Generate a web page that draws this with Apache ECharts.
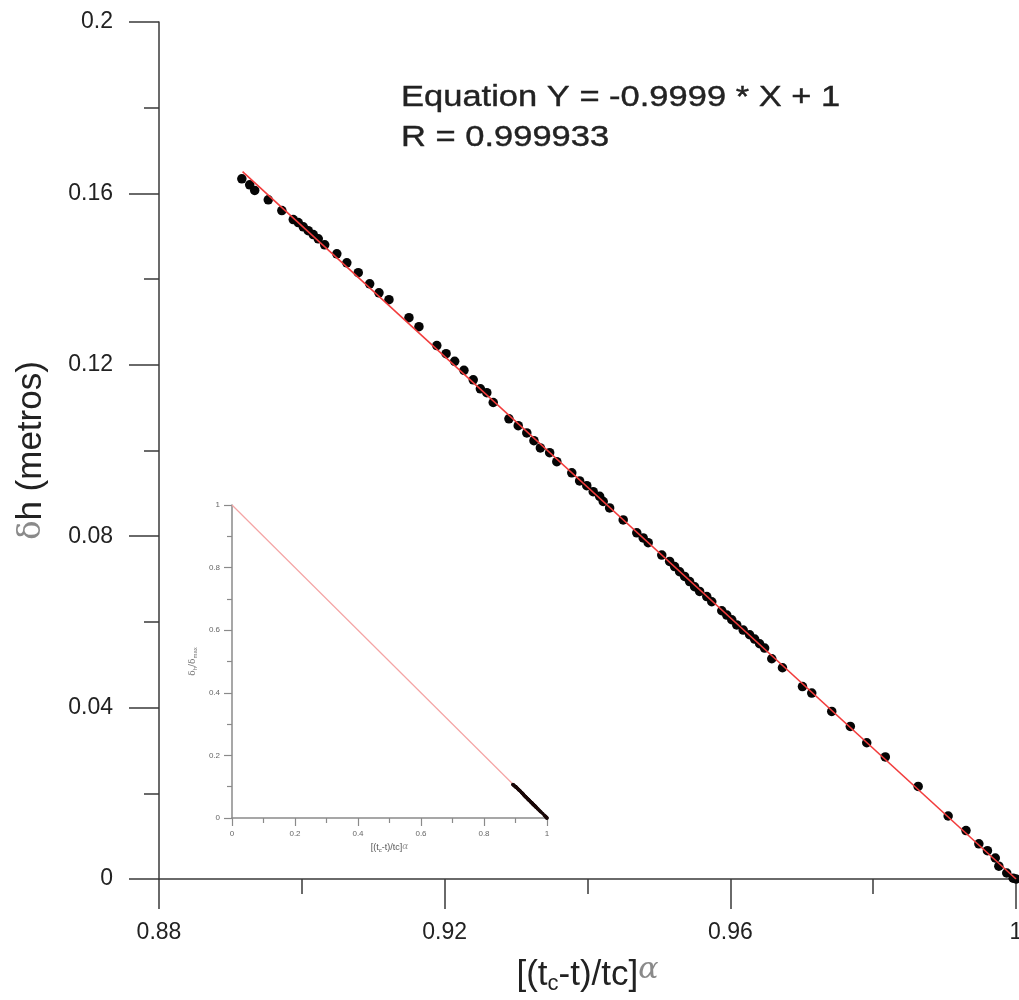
<!DOCTYPE html>
<html>
<head>
<meta charset="utf-8">
<script src="https://cdn.jsdelivr.net/npm/echarts@6/dist/echarts.min.js"></script>
<style>
  html, body { margin: 0; padding: 0; background: #fff; }
  #chart { width: 1019px; height: 1000px; }
</style>
</head>
<body>
<div id="chart"></div>
<script>
// ---- data ----
const xVals = [0.8916,0.8927,0.8934,0.8953,0.8972,0.8988,0.8995,0.9002,0.9009,0.9016,0.9023,0.9032,0.9049,0.9063,0.9079,0.9095,0.9108,0.9122,0.9150,0.9164,0.9189,0.9202,0.9214,0.9227,0.9240,0.9250,0.9259,0.9268,0.9290,0.9303,0.9315,0.9325,0.9334,0.9347,0.9357,0.9378,0.9389,0.9399,0.9408,0.9417,0.9422,0.9431,0.9450,0.9469,0.9478,0.9485,0.9504,0.9515,0.9522,0.9529,0.9536,0.9543,0.9550,0.9557,0.9567,0.9574,0.9588,0.9595,0.9602,0.9609,0.9618,0.9627,0.9634,0.9641,0.9648,0.9658,0.9673,0.9701,0.9714,0.9742,0.9768,0.9791,0.9817,0.9863,0.9905,0.9930,0.9948,0.9960,0.9971,0.9976,0.9987,0.9996,1.0000];
const yVals = [0.1634,0.1620,0.1607,0.1585,0.1560,0.1539,0.1532,0.1522,0.1513,0.1504,0.1494,0.1480,0.1459,0.1438,0.1415,0.1389,0.1368,0.1352,0.1310,0.1289,0.1245,0.1226,0.1208,0.1187,0.1165,0.1144,0.1135,0.1112,0.1074,0.1058,0.1041,0.1023,0.1006,0.0995,0.0974,0.0948,0.0929,0.0918,0.0904,0.0893,0.0881,0.0866,0.0838,0.0808,0.0796,0.0785,0.0756,0.0741,0.0729,0.0717,0.0706,0.0694,0.0682,0.0671,0.0659,0.0647,0.0626,0.0616,0.0605,0.0593,0.0581,0.0570,0.0560,0.0549,0.0539,0.0514,0.0493,0.0449,0.0434,0.0391,0.0356,0.0318,0.0285,0.0216,0.0147,0.0113,0.0082,0.0066,0.0049,0.0030,0.0014,0.0002,0.0000];
const fitX = [0.8917, 1.0];
const fitY = [0.1651, 0.0];
const deltaMax = 1.524;            // normalisation used in the inset (δh/δmax)
const insetFitX = [0, 1];
const insetFitY = [1, 0];
const eqLines = ['Equation Y = -0.9999 * X + 1', 'R = 0.999933'];

// ---- build ----
const mainPts = xVals.map((x, i) => [x, yVals[i]]);
const insetPts = xVals.map((x, i) => [x, yVals[i] / deltaMax]);
const mainFit = fitX.map((x, i) => [x, fitY[i]]);
const insetFit = insetFitX.map((x, i) => [x, insetFitY[i]]);
const fmt = v => String(+v.toFixed(2));
const FONT = '"Liberation Sans", Arial, sans-serif';
const axisCol = '#3a3a3a';

const chart = echarts.init(document.getElementById('chart'), null, { renderer: 'canvas' });
chart.setOption({
  animation: false,
  backgroundColor: '#ffffff',
  grid: [
    { left: 159, top: 22, width: 857, height: 857, containLabel: false, outerBoundsMode: 'none' },
    { left: 232, top: 505, width: 315, height: 313, containLabel: false, outerBoundsMode: 'none' }
  ],
  xAxis: [
    {
      gridIndex: 0, type: 'value', min: 0.88, max: 1, interval: 0.04,
      name: '{b|[(t}{s|c}{b|-t)/tc]}{a|α}', nameLocation: 'middle', nameGap: 76,
      nameTextStyle: { rich: {
        b: { fontFamily: FONT, fontSize: 35, color: '#222', lineHeight: 40, verticalAlign: 'middle' },
        s: { fontFamily: FONT, fontSize: 22, color: '#222', lineHeight: 22, verticalAlign: 'bottom' },
        a: { fontFamily: '"DejaVu Serif", serif', fontStyle: 'italic', fontSize: 30, color: '#8a8a8a', lineHeight: 32, verticalAlign: 'top' }
      } },
      axisLine: { show: true, onZero: false, lineStyle: { color: axisCol, width: 1.5 } },
      axisTick: { show: true, inside: false, length: 30, lineStyle: { color: axisCol, width: 1.5 } },
      minorTick: { show: true, splitNumber: 2, length: 15, lineStyle: { color: axisCol, width: 1.5 } },
      splitLine: { show: false },
      axisLabel: { fontFamily: FONT, fontSize: 23, color: '#222', margin: 42, formatter: fmt, showMinLabel: true, showMaxLabel: true }
    },
    {
      gridIndex: 1, type: 'value', min: 0, max: 1, interval: 0.2,
      name: '{b|[(t}{s|c}{b|-t)/tc]}{a|α}', nameLocation: 'middle', nameGap: 24,
      nameTextStyle: { rich: {
        b: { fontFamily: FONT, fontSize: 9, color: '#555', lineHeight: 11, verticalAlign: 'middle' },
        s: { fontFamily: FONT, fontSize: 6, color: '#555', lineHeight: 6, verticalAlign: 'bottom' },
        a: { fontFamily: '"DejaVu Serif", serif', fontStyle: 'italic', fontSize: 9, color: '#999', lineHeight: 9, verticalAlign: 'top' }
      } },
      axisLine: { show: true, onZero: false, lineStyle: { color: '#8a8a8a', width: 1.5 } },
      axisTick: { show: true, inside: false, length: 8, lineStyle: { color: '#8a8a8a', width: 1.2 } },
      minorTick: { show: true, splitNumber: 2, length: 5, lineStyle: { color: '#8a8a8a', width: 1.2 } },
      splitLine: { show: false },
      axisLabel: { fontFamily: FONT, fontSize: 8, color: '#666', margin: 12, formatter: fmt, showMinLabel: true, showMaxLabel: true }
    }
  ],
  yAxis: [
    {
      gridIndex: 0, type: 'value', min: 0, max: 0.2, interval: 0.04,
      name: '{d|δ}{b|h (metros)}', nameLocation: 'middle', nameGap: 110, nameRotate: 90,
      nameTextStyle: { rich: {
        d: { fontFamily: '"DejaVu Serif", serif', fontSize: 32, color: '#8a8a8a' },
        b: { fontFamily: FONT, fontSize: 35, color: '#222' }
      } },
      axisLine: { show: true, onZero: false, lineStyle: { color: axisCol, width: 1.5 } },
      axisTick: { show: true, inside: false, length: 30, lineStyle: { color: axisCol, width: 1.5 } },
      minorTick: { show: true, splitNumber: 2, length: 15, lineStyle: { color: axisCol, width: 1.5 } },
      splitLine: { show: false },
      axisLabel: { fontFamily: FONT, fontSize: 23, color: '#222', margin: 46, formatter: fmt, showMinLabel: true, showMaxLabel: true }
    },
    {
      gridIndex: 1, type: 'value', min: 0, max: 1, interval: 0.2,
      name: '{d|δ}{s|h}{b|/δ}{s|max}', nameLocation: 'middle', nameGap: 34, nameRotate: 90,
      nameTextStyle: { rich: {
        d: { fontFamily: '"DejaVu Serif", serif', fontSize: 9, color: '#777', lineHeight: 11, verticalAlign: 'middle' },
        b: { fontFamily: '"DejaVu Serif", serif', fontSize: 9, color: '#777', lineHeight: 11, verticalAlign: 'middle' },
        s: { fontFamily: FONT, fontSize: 6, color: '#777', lineHeight: 6, verticalAlign: 'bottom' }
      } },
      axisLine: { show: true, onZero: false, lineStyle: { color: '#8a8a8a', width: 1.5 } },
      axisTick: { show: true, inside: false, length: 8, lineStyle: { color: '#8a8a8a', width: 1.2 } },
      minorTick: { show: true, splitNumber: 2, length: 5, lineStyle: { color: '#8a8a8a', width: 1.2 } },
      splitLine: { show: false },
      axisLabel: { fontFamily: FONT, fontSize: 8, color: '#666', margin: 12, formatter: fmt, showMinLabel: true, showMaxLabel: true }
    }
  ],
  graphic: [
    {
      type: 'group', x: 401, y: 78, scaleX: 1.15, scaleY: 1,
      children: eqLines.map((t, i) => ({
        type: 'text', x: 0, y: i * 40,
        style: { text: t, fontFamily: FONT, fontSize: 30, fill: '#222', lineHeight: 40, textVerticalAlign: 'top', stroke: '#222', lineWidth: 0.4 }
      }))
    }
  ],
  series: [
    {
      type: 'scatter', xAxisIndex: 0, yAxisIndex: 0, data: mainPts,
      symbol: 'circle', symbolSize: 9.5, itemStyle: { color: '#050505', opacity: 1 }, z: 2
    },
    {
      type: 'line', xAxisIndex: 0, yAxisIndex: 0, data: mainFit,
      showSymbol: false, lineStyle: { color: '#f23c3c', width: 1.6 }, z: 3
    },
    {
      type: 'line', xAxisIndex: 1, yAxisIndex: 1, data: insetFit,
      showSymbol: false, lineStyle: { color: '#f4a4a4', width: 1.2 }, z: 2
    },
    {
      type: 'scatter', xAxisIndex: 1, yAxisIndex: 1, data: insetPts,
      symbol: 'circle', symbolSize: 3.5, itemStyle: { color: '#1a0808', opacity: 1 }, z: 3
    }
  ]
});
</script>
</body>
</html>
